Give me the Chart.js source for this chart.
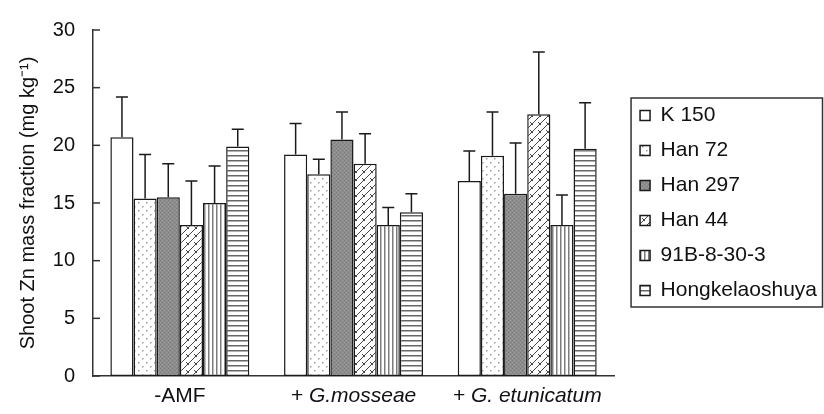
<!DOCTYPE html>
<html>
<head>
<meta charset="utf-8">
<script src="https://cdn.jsdelivr.net/npm/chart.js@4/dist/chart.umd.min.js"></script>
<style>
html, body { margin: 0; padding: 0; background: #fff; }
#wrap { width: 824px; height: 414px; }
</style>
</head>
<body>
<div id="wrap"><canvas id="chart"></canvas></div>
<script>
var treatments = ["-AMF", "+ G.mosseae", "+ G. etunicatum"];
var cultivars = ["K 150", "Han 72", "Han 297", "Han 44", "91B-8-30-3", "Hongkelaoshuya"];
var yTicks = [0, 5, 10, 15, 20, 25, 30];

// mean and SE (upper bar only) per treatment
var k150 = [20.7, 19.2, 16.9];
var k150Err = [3.5, 2.7, 2.6];
var han72 = [15.4, 17.5, 19.1];
var han72Err = [3.8, 1.3, 3.8];
var han297 = [15.5, 20.5, 15.8];
var han297Err = [2.9, 2.4, 4.4];
var han44 = [13.1, 18.4, 22.7];
var han44Err = [3.8, 2.6, 5.4];
var b91 = [15.0, 13.1, 13.1];
var b91Err = [3.2, 1.5, 2.6];
var hong = [19.9, 14.2, 19.7];
var hongErr = [1.5, 1.6, 4.0];

var FONT = "'Liberation Sans', Arial, Helvetica, sans-serif";

function makePattern(w, h, draw) {
	var c = document.createElement('canvas');
	c.width = w; c.height = h;
	var g = c.getContext('2d');
	g.fillStyle = '#fff';
	g.fillRect(0, 0, w, h);
	draw(g);
	return document.getElementById('chart').getContext('2d').createPattern(c, 'repeat');
}

var fillWhite = '#ffffff';
var fillDots = makePattern(8, 8, function(g) {
	g.fillStyle = '#9a9a9a';
	g.fillRect(2, 2, 1.5, 1.5);
	g.fillRect(6, 6, 1.5, 1.5);
});
var fillDark = makePattern(4, 4, function(g) {
	g.fillStyle = '#8c8c8c';
	g.fillRect(0, 0, 4, 4);
	g.fillStyle = '#7a7a7a';
	g.fillRect(0, 0, 1, 1); g.fillRect(2, 2, 1, 1);
	g.fillStyle = '#a0a0a0';
	g.fillRect(2, 0, 1, 1); g.fillRect(0, 2, 1, 1);
});
var fillZigzag = makePattern(8, 8, function(g) {
	g.strokeStyle = '#444';
	g.lineWidth = 1;
	g.beginPath();
	g.moveTo(0, 8); g.lineTo(8, 0);
	g.moveTo(-4, 4); g.lineTo(4, -4);
	g.moveTo(4, 12); g.lineTo(12, 4);
	g.moveTo(2, 2); g.lineTo(5, 5);
	g.stroke();
});
var fillVert = makePattern(4, 4, function(g) {
	g.fillStyle = '#7c7c7c';
	g.fillRect(0, 0, 1.5, 4);
});
var fillHoriz = makePattern(5, 5, function(g) {
	g.fillStyle = '#666';
	g.fillRect(0, 0, 5, 1.5);
});

var seriesData = [k150, han72, han297, han44, b91, hong];
var seriesErr = [k150Err, han72Err, han297Err, han44Err, b91Err, hongErr];
var seriesFill = [fillWhite, fillDots, fillDark, fillZigzag, fillVert, fillHoriz];

var datasets = cultivars.map(function(name, i) {
	return {
		label: name,
		data: seriesData[i],
		err: seriesErr[i],
		backgroundColor: seriesFill[i],
		borderColor: '#1a1a1a',
		borderWidth: 1.5,
		borderSkipped: false
	};
});

// upper error bars, y-axis inner ticks and the frame around the legend
var extras = {
	id: 'extras',
	afterLayout: function(chart) {
		var lg = chart.legend;
		var shift = chart.chartArea.right + 12 - lg.left;
		lg.left += shift;
		lg.right += shift;
	},
	afterDatasetsDraw: function(chart) {
		var ctx = chart.ctx;
		var y = chart.scales.y;
		ctx.save();
		ctx.strokeStyle = '#1a1a1a';
		ctx.lineWidth = 1.5;
		chart.data.datasets.forEach(function(ds, di) {
			chart.getDatasetMeta(di).data.forEach(function(bar, i) {
				var top = y.getPixelForValue(ds.data[i] + ds.err[i]);
				ctx.beginPath();
				ctx.moveTo(bar.x, bar.y);
				ctx.lineTo(bar.x, top);
				ctx.moveTo(bar.x - 6, top);
				ctx.lineTo(bar.x + 6, top);
				ctx.stroke();
			});
		});
		var left = chart.chartArea.left;
		ctx.strokeStyle = '#333';
		yTicks.forEach(function(v) {
			var py = y.getPixelForValue(v);
			ctx.beginPath();
			ctx.moveTo(left, py);
			ctx.lineTo(left + 7, py);
			ctx.stroke();
		});
		ctx.restore();
	},
	afterDraw: function(chart) {
		var lg = chart.legend;
		var boxes = lg.legendHitBoxes;
		if (!boxes || !boxes.length) return;
		var pad = lg.options.labels.padding;
		var fs = lg.options.labels.font.size;
		var first = boxes[0].top;
		var last = boxes[boxes.length - 1].top;
		var ctx = chart.ctx;
		ctx.save();
		ctx.strokeStyle = '#333';
		ctx.lineWidth = 1.5;
		var x0 = lg.left + pad - 9;
		ctx.strokeRect(x0, first - 7, chart.width - 1.5 - x0, last - first + fs + 13);
		ctx.restore();
	}
};

new Chart(document.getElementById('chart'), {
	type: 'bar',
	data: {
		labels: treatments,
		datasets: datasets
	},
	options: {
		responsive: true,
		maintainAspectRatio: false,
		animation: false,
		layout: { padding: { left: 10, top: 22, right: 9, bottom: 5 } },
		datasets: {
			bar: { categoryPercentage: 0.8, barPercentage: 1.0 }
		},
		plugins: {
			tooltip: { enabled: false },
			legend: {
				position: 'right',
				fullSize: false,
				labels: {
					color: '#111',
					font: { family: FONT, size: 21 },
					boxWidth: 10,
					boxHeight: 10,
					padding: 14
				}
			}
		},
		scales: {
			x: {
				grid: { display: false, drawTicks: false },
				border: { color: '#333', width: 1.5 },
				afterFit: function(scale) { scale.height = 33; },
				ticks: {
					color: '#111',
					padding: 8,
					font: function(c) {
						return { family: FONT, size: 21, style: c.index > 0 ? 'italic' : 'normal' };
					}
				}
			},
			y: {
				min: 0,
				max: 30,
				afterBuildTicks: function(scale) {
					scale.ticks = yTicks.map(function(v) { return { value: v }; });
				},
				afterFit: function(scale) { scale.width = 83; },
				grid: { display: false, drawTicks: false },
				border: { color: '#333', width: 1.5 },
				ticks: {
					color: '#111',
					padding: 18,
					font: { family: FONT, size: 20 }
				},
				title: {
					display: true,
					text: 'Shoot Zn mass fraction (mg kg\u207B\u00B9)',
					color: '#111',
					padding: { top: 6, bottom: 13 },
					font: { family: FONT, size: 20 }
				}
			}
		}
	},
	plugins: [extras]
});
</script>
</body>
</html>
